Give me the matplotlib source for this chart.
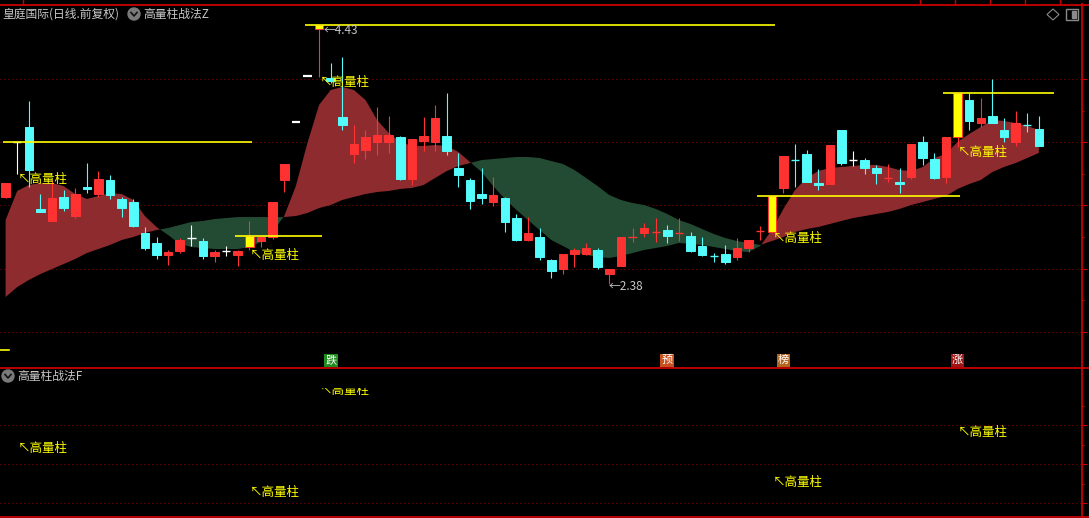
import numpy as np
import matplotlib
matplotlib.use("Agg")
import matplotlib.pyplot as plt
import matplotlib.transforms as mtransforms
from matplotlib.patches import Rectangle, Ellipse, Polygon
from matplotlib.lines import Line2D

plt.rcParams['font.family'] = ['Noto Sans CJK SC', 'DejaVu Sans']

W, H = 1089, 518

# daily candles (price)
opens = [3.067, 3.502, 3.620, 2.972, 2.877, 3.067, 2.916, 3.146, 3.090, 3.201,
         3.051, 3.027, 2.782, 2.703, 2.608, 2.639, 2.742, 2.718, 2.600, 2.639,
         2.608, 2.671, 2.718, 2.750, 3.201, 3.660, 4.024, 4.396, 4.008, 3.699,
         3.407, 3.438, 3.502, 3.502, 3.541, 3.209, 3.510, 3.502, 3.549, 3.296,
         3.201, 3.090, 3.027, 3.059, 2.900, 2.726, 2.750, 2.568, 2.497, 2.616,
         2.616, 2.647, 2.457, 2.521, 2.750, 2.782, 2.790, 2.805, 2.782, 2.758,
         2.679, 2.600, 2.616, 2.592, 2.663, 2.797, 2.790, 3.138, 3.359, 3.407,
         3.177, 3.169, 3.597, 3.359, 3.359, 3.296, 3.217, 3.185, 3.225, 3.502,
         3.367, 3.225, 3.541, 3.834, 3.652, 3.707, 3.597, 3.502, 3.636, 3.604]
closes = [3.177, 3.502, 3.280, 2.948, 3.059, 2.979, 3.090, 3.130, 3.209, 3.082,
          2.979, 2.837, 2.663, 2.608, 2.631, 2.726, 2.742, 2.600, 2.631, 2.639,
          2.639, 2.758, 2.750, 3.027, 3.328, 3.660, 4.024, 4.430, 3.984, 3.636,
          3.486, 3.541, 3.557, 3.557, 3.209, 3.525, 3.549, 3.691, 3.430, 3.241,
          3.035, 3.059, 3.082, 2.869, 2.726, 2.782, 2.592, 2.481, 2.616, 2.647,
          2.663, 2.513, 2.497, 2.750, 2.750, 2.821, 2.790, 2.758, 2.782, 2.639,
          2.608, 2.600, 2.552, 2.663, 2.726, 2.797, 3.074, 3.391, 3.359, 3.185,
          3.161, 3.478, 3.335, 3.359, 3.296, 3.256, 3.217, 3.169, 3.486, 3.375,
          3.217, 3.541, 3.889, 3.668, 3.691, 3.652, 3.541, 3.652, 3.636, 3.470]
highs = [3.177, 3.502, 3.826, 3.090, 3.201, 3.122, 3.138, 3.335, 3.272, 3.241,
         3.067, 3.051, 2.829, 2.750, 2.647, 2.742, 2.845, 2.742, 2.647, 2.679,
         2.647, 2.877, 2.758, 3.027, 3.328, 3.660, 4.024, 4.430, 4.127, 4.174,
         3.636, 3.597, 3.778, 3.707, 3.549, 3.525, 3.699, 3.794, 3.889, 3.415,
         3.217, 3.296, 3.225, 3.067, 2.932, 2.908, 2.821, 2.576, 2.616, 2.663,
         2.703, 2.663, 2.497, 2.750, 2.821, 2.861, 2.900, 2.845, 2.900, 2.790,
         2.750, 2.623, 2.687, 2.742, 2.726, 2.837, 3.074, 3.391, 3.486, 3.438,
         3.288, 3.478, 3.597, 3.430, 3.375, 3.320, 3.328, 3.296, 3.486, 3.549,
         3.415, 3.541, 3.889, 3.889, 3.850, 4.000, 3.691, 3.747, 3.731, 3.707]
lows = [3.059, 3.248, 3.146, 2.948, 2.877, 2.956, 2.900, 3.098, 3.067, 3.051,
        2.908, 2.829, 2.647, 2.576, 2.529, 2.623, 2.679, 2.576, 2.552, 2.600,
        2.521, 2.647, 2.671, 2.734, 3.106, 3.660, 4.024, 4.016, 3.968, 3.597,
        3.335, 3.367, 3.399, 3.415, 3.201, 3.161, 3.430, 3.430, 3.399, 3.146,
        2.972, 3.011, 2.995, 2.790, 2.718, 2.718, 2.568, 2.426, 2.457, 2.513,
        2.608, 2.497, 2.380, 2.521, 2.710, 2.750, 2.710, 2.703, 2.718, 2.631,
        2.600, 2.552, 2.536, 2.568, 2.631, 2.726, 2.782, 3.098, 3.146, 3.185,
        3.122, 3.169, 3.320, 3.312, 3.248, 3.169, 3.185, 3.098, 3.209, 3.320,
        3.209, 3.177, 3.462, 3.597, 3.620, 3.652, 3.502, 3.470, 3.581, 3.470]
# r = up, c = down, w = flat, y = high-volume bar
kinds = ("rwccrcrcrc" "ccccrrwcrw" "ryrrrwwycc" "rrrrcrrrcc" "ccrccrccrr"
         "rcrrrrrcrc" "cccrrryrcc" "crcwccrcrc" "crycrccrcc")

# two moving lines of the band
fast_line = [2.884, 3.114, 3.161, 3.177, 3.177, 3.153, 3.090, 3.051, 3.074, 3.098,
             3.090, 3.043, 2.916, 2.829, 2.766, 2.695, 2.671, 2.663, 2.655, 2.655,
             2.655, 2.671, 2.710, 2.790, 2.916, 3.153, 3.494, 3.794, 3.913, 3.937,
             3.913, 3.834, 3.676, 3.573, 3.502, 3.470, 3.470, 3.478, 3.470, 3.423,
             3.343, 3.264, 3.153, 3.051, 2.964, 2.884, 2.805, 2.726, 2.679, 2.631,
             2.608, 2.592, 2.584, 2.600, 2.623, 2.647, 2.663, 2.679, 2.703, 2.695,
             2.687, 2.671, 2.655, 2.639, 2.631, 2.679, 2.805, 2.972, 3.122, 3.217,
             3.272, 3.296, 3.304, 3.312, 3.320, 3.320, 3.304, 3.280, 3.272, 3.304,
             3.375, 3.407, 3.502, 3.565, 3.620, 3.676, 3.668, 3.652, 3.628, 3.597]
slow_line = [2.275, 2.354, 2.410, 2.457, 2.497, 2.536, 2.576, 2.623, 2.655, 2.687,
             2.726, 2.750, 2.782, 2.805, 2.821, 2.845, 2.869, 2.877, 2.892, 2.900,
             2.908, 2.908, 2.908, 2.908, 2.908, 2.916, 2.940, 2.979, 3.003, 3.043,
             3.067, 3.090, 3.106, 3.114, 3.130, 3.138, 3.161, 3.217, 3.272, 3.312,
             3.335, 3.359, 3.367, 3.375, 3.383, 3.383, 3.375, 3.351, 3.328, 3.280,
             3.217, 3.153, 3.082, 3.043, 3.019, 3.003, 2.972, 2.932, 2.884, 2.853,
             2.813, 2.774, 2.742, 2.718, 2.703, 2.687, 2.718, 2.750, 2.790, 2.813,
             2.829, 2.853, 2.877, 2.900, 2.916, 2.932, 2.948, 2.972, 3.003, 3.027,
             3.051, 3.074, 3.130, 3.169, 3.201, 3.264, 3.304, 3.335, 3.375, 3.415]

hv_idx = [1, 21, 27, 66, 82]
hv_f = [2.56, 1.44, 4.05, 1.69, 2.97]   # lower panel value
tag_idx = [28, 57, 67, 82]
tag_text = ['跌', '预', '榜', '涨']
tag_color = ['#1E8C1E', '#C8501E', '#B4641E', '#A01414']
price_grid = [2.0, 2.5, 3.0, 3.5, 4.0]
f_grid = [1, 2, 3]

RED = '#FF3232'
CYAN = '#54FCFC'
YEL = '#FFFF00'
BORDER = '#C80000'
GRIDC = '#A00000'
TXT = '#C8C8C8'
cols = {'r': RED, 'c': CYAN, 'w': '#FFFFFF', 'y': YEL}

n = len(opens)
xs = np.arange(n)
fast = np.array(fast_line)
slow = np.array(slow_line)

fig = plt.figure(figsize=(W / 100, H / 100), dpi=100, facecolor='black')


def fx(x):
    return x / W


def fy(y):
    return 1 - y / H


ax = fig.add_axes([0, fy(368), 1081 / W, (368 - 4) / H], facecolor='black')
ax2 = fig.add_axes([0, fy(517), 1081 / W, (517 - 388) / H], facecolor='black')
xlim = (-0.482, 92.63)

# ---- main panel
ax.set_xlim(*xlim)
ax.set_ylim(1.7136, 4.5934)
for g in price_grid:
    ax.axhline(g, color=GRIDC, lw=0.72, ls=(0, (1, 3)), zorder=0.5)

ax.fill_between(xs, fast, slow, where=fast >= slow, interpolate=True,
                color='#8E2B2F', lw=0, zorder=1)
ax.fill_between(xs, fast, slow, where=fast < slow, interpolate=True,
                color='#234A33', lw=0, zorder=1)

for i in range(n):
    o, h, l, c, k = opens[i], highs[i], lows[i], closes[i], kinds[i]
    col = cols[k]
    wick = RED if k == 'y' else col
    if h - l > 0.003:
        ax.vlines(i, l, h, color=wick, lw=0.8, zorder=3)
    top, bot = max(o, c), min(o, c)
    if top - bot < 0.004:
        ax.hlines(top, i - 0.36, i + 0.36, color=col,
                  lw=1.6 if h - l < 0.003 else 1.0, zorder=4)
    else:
        ax.add_patch(Rectangle((i - 0.37, bot), 0.74, top - bot, facecolor=col,
                               edgecolor=RED if k == 'y' else col, lw=0.7, zorder=4))

# high-volume close lines
for j, i in enumerate(hv_idx):
    end = hv_idx[j + 1] + 0.25 if j + 1 < len(hv_idx) else n - 1 + 1.3
    ax.hlines(closes[i], i - 1.25, end, color=YEL, lw=1.2, zorder=5)
    ax.text(i + 0.05, lows[i] + 0.01, '↖高量柱', color=YEL, fontsize=9,
            ha='left', va='top', zorder=6)

ax.text(27.35, 4.38, '←4.43', color=TXT, fontsize=8.5, ha='left', va='center', zorder=6)
ax.text(51.9, 2.362, '←2.38', color=TXT, fontsize=8.5, ha='left', va='center', zorder=6)

ax.plot([0, 0.0085], [0.0495, 0.0495], color=YEL, lw=1.2, transform=ax.transAxes)

trans = mtransforms.blended_transform_factory(ax.transData, ax.transAxes)
for i, t, c in zip(tag_idx, tag_text, tag_color):
    ax.text(i, 0.021, t, color='white', fontsize=8, ha='center', va='center',
            transform=trans, zorder=6,
            bbox=dict(boxstyle='square,pad=0.12', fc=c, ec='none'))

ax.yaxis.tick_right()
ax.set_yticks(price_grid)
ax.set_yticks([2.25, 2.75, 3.25, 3.75], minor=True)
ax.tick_params(axis='y', which='major', direction='out', length=4.3, width=0.8,
               color=BORDER, labelright=False, labelleft=False)
ax.tick_params(axis='y', which='minor', direction='out', length=2.2, width=0.8,
               color=BORDER)
ax.set_xticks([])
for s in ax.spines.values():
    s.set_visible(False)

# ---- lower panel
ax2.set_xlim(*xlim)
ax2.set_ylim(0.641, 3.949)
for g in f_grid:
    ax2.axhline(g, color=GRIDC, lw=0.72, ls=(0, (1, 3)), zorder=0.5)
for i, f in zip(hv_idx, hv_f):
    ax2.text(i + 0.05, f, '↖高量柱', color=YEL, fontsize=9, ha='left', va='top',
             clip_on=True)
ax2.yaxis.tick_right()
ax2.set_yticks(f_grid)
ax2.set_yticks([1.5, 2.5, 3.5], minor=True)
ax2.tick_params(axis='y', which='major', direction='out', length=4.3, width=0.8,
                color=BORDER, labelright=False, labelleft=False)
ax2.tick_params(axis='y', which='minor', direction='out', length=2.2, width=0.8,
                color=BORDER)
ax2.set_xticks([])
for s in ax2.spines.values():
    s.set_visible(False)

# ---- frame lines
fig.add_artist(Line2D([0, 1], [fy(4.5), fy(4.5)], color=BORDER, lw=1.3))
fig.add_artist(Line2D([0, 1], [fy(368), fy(368)], color=BORDER, lw=1.3))
fig.add_artist(Line2D([0, 1], [fy(517), fy(517)], color=BORDER, lw=1.3))
fig.add_artist(Line2D([fx(1081.5), fx(1081.5)], [fy(4), fy(518)], color=BORDER, lw=1.3))
for tx in [23, 920, 955, 990, 1025, 1060]:
    fig.add_artist(Line2D([fx(tx), fx(tx)], [fy(0), fy(4)], color=BORDER, lw=1))

# ---- titles and icons
fig.text(fx(2), fy(14), '皇庭国际(日线.前复权)', color=TXT, fontsize=8.5, va='center', ha='left')
fig.text(fx(143), fy(14), '高量柱战法Z', color=TXT, fontsize=8.5, va='center', ha='left')
fig.text(fx(17), fy(376), '高量柱战法F', color=TXT, fontsize=8.5, va='center', ha='left')
for cx, cy in [(134, 14), (8, 376)]:
    fig.add_artist(Ellipse((fx(cx), fy(cy)), 12 / W, 12 / H, color='#7A7A7A'))
    fig.add_artist(Line2D([fx(cx - 3), fx(cx), fx(cx + 3)],
                          [fy(cy - 1.5), fy(cy + 2), fy(cy - 1.5)], color='#111111', lw=1.2))

fig.add_artist(Polygon([(fx(1053), fy(9)), (fx(1059), fy(14.5)), (fx(1053), fy(20)),
                        (fx(1047), fy(14.5))], closed=True, fill=False,
                       edgecolor='#8A8A8A', lw=0.8))
fig.add_artist(Rectangle((fx(1066), fy(20)), 12 / W, 11 / H, fill=False,
                         edgecolor='#8A8A8A', lw=1.0))
fig.add_artist(Rectangle((fx(1072), fy(18)), 3.5 / W, 7 / H, color='#8A8A8A'))

fig.savefig('out.png', dpi=100, facecolor='black')
